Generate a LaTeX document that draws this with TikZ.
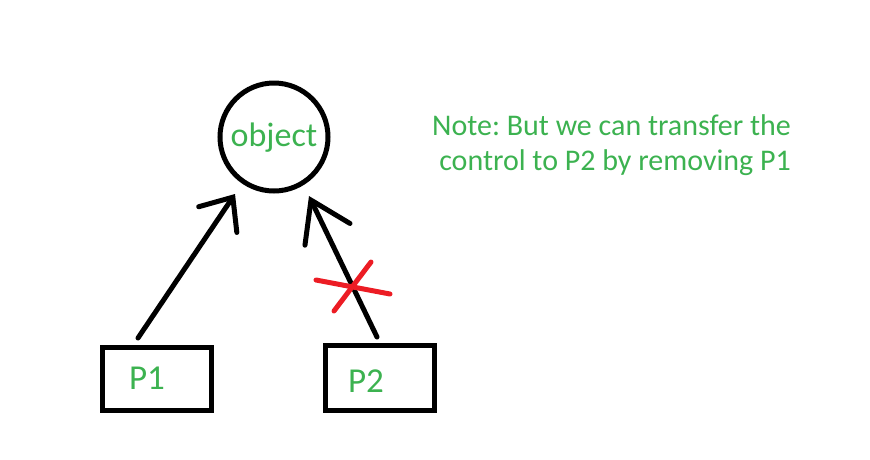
\documentclass[tikz,border=0pt]{standalone}
\usepackage{fontspec}
\setmainfont{Carlito}
\frenchspacing
\usetikzlibrary{arrows.meta,calc}
\definecolor{notegreen}{RGB}{60,178,80}
\definecolor{crossred}{RGB}{236,28,36}
\tikzset{
  txt/.style={text=notegreen, inner sep=0pt},
  pbox/.style={draw=black, line width=5pt, minimum width=109pt, minimum height=63pt, inner sep=0pt},
  objcirc/.style={draw=black, line width=5pt, circle, minimum size=108pt, inner sep=0pt},
  link/.style={draw=black, line width=5pt, line cap=round},
  barbA/.style={-{Straight Barb[length=27pt,width=46pt,line cap=round]}},
  barbB/.style={-{Straight Barb[length=38pt,width=50pt,line cap=round]}},
  redx/.style={draw=crossred, line width=5pt, line cap=round}
}
\begin{document}
\begin{tikzpicture}[x=1pt,y=-1pt]
\useasboundingbox (0,0) rectangle (870,459);
\node[objcirc] (obj) at (274,137) {};
\node[txt, font=\fontsize{34}{38}\selectfont] (objt) at (274,138) {object};
\node[pbox] (p1) at (157,379) {};
\node[pbox, minimum height=65pt] (p2) at (380,378) {};
\node[txt, font=\fontsize{35}{38}\selectfont] (p1t) at (147,378) {P1};
\node[txt, font=\fontsize{35}{38}\selectfont] (p2t) at (366,381) {P2};
\node[txt, font=\fontsize{30}{35.5}\selectfont, align=right, anchor=east] (note) at (791,145)
  {Note: But we can transfer the\\control to P2 by removing P1};
\coordinate (s1) at (138,338);
\coordinate (e1) at (235,194);
\coordinate (s2) at (377,337);
\coordinate (e2) at (309,196);
\draw[link, barbA] (s1) -- (e1);
\draw[link, barbB] (s2) -- (e2);
\coordinate (xc) at (352,287);
\draw[redx] (316,280) -- (390,294);
\draw[redx] (334,311) -- (371,262);
\end{tikzpicture}
\end{document}
